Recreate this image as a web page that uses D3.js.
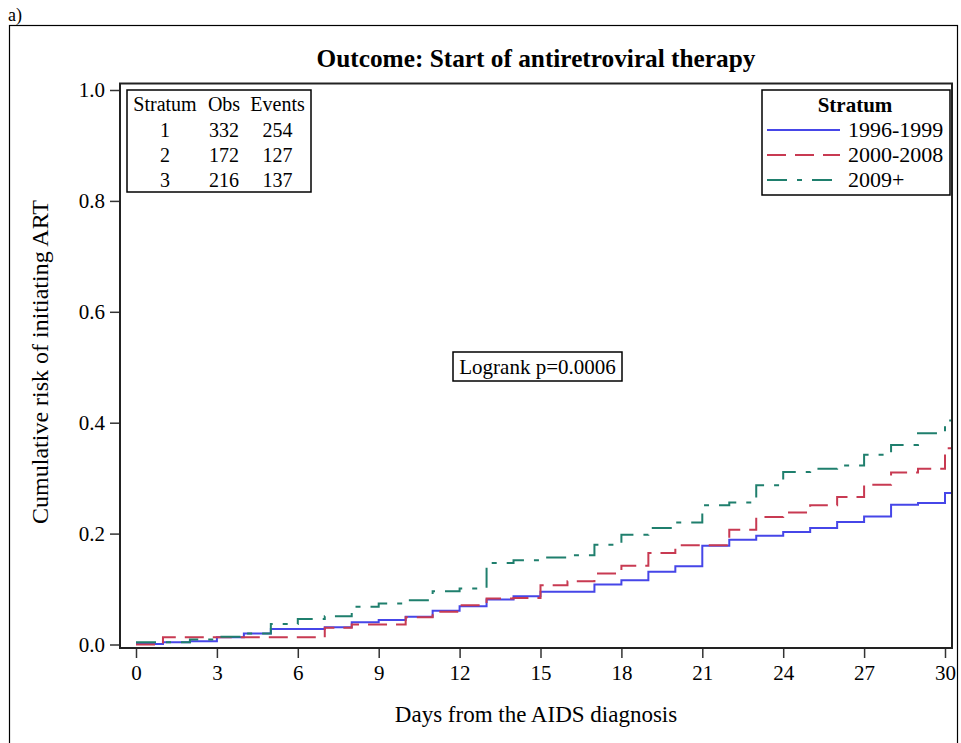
<!DOCTYPE html>
<html><head><meta charset="utf-8">
<script src="https://cdn.jsdelivr.net/npm/d3@7"></script>
<style>body{margin:0;background:#fff}svg{display:block}text{font-family:"Liberation Serif","Times New Roman",serif;fill:#000}</style>
</head><body><div id="c"></div>
<script>
const days = d3.range(0, 31);
const seriesNames = ["1996-1999", "2000-2008", "2009+"];
const blueVals = [0.001,0.004,0.006,0.013,0.020,0.028,0.028,0.031,0.040,0.044,0.050,0.061,0.069,0.081,0.087,0.095,0.095,0.108,0.116,0.131,0.141,0.178,0.189,0.196,0.203,0.210,0.221,0.231,0.252,0.255,0.273];
const redVals  = [0.000,0.013,0.013,0.013,0.013,0.013,0.013,0.030,0.036,0.036,0.049,0.059,0.071,0.083,0.084,0.107,0.114,0.128,0.142,0.165,0.179,0.179,0.207,0.230,0.238,0.251,0.266,0.288,0.310,0.317,0.354];
const tealVals = [0.004,0.004,0.009,0.014,0.020,0.037,0.046,0.051,0.068,0.074,0.080,0.096,0.101,0.147,0.152,0.157,0.161,0.180,0.198,0.210,0.220,0.251,0.256,0.287,0.311,0.317,0.323,0.342,0.360,0.381,0.404];
const lastDay = 30.25;
const xTicks = [0,3,6,9,12,15,18,21,24,27,30];
const yTicks = [0,0.2,0.4,0.6,0.8,1.0];
const tableHeader = ["Stratum","Obs","Events"];
const tableRows = [["1","332","254"],["2","172","127"],["3","216","137"]];
const colors = ["#4646e8","#c83a52","#1f7f6d"];
const dashes = [null, "19,9", "20,10,5,10"];

const W = 961, H = 743;
const svg = d3.select("#c").append("svg").attr("width", W).attr("height", H);

// outer frame + panel label
svg.append("text").attr("x", 8).attr("y", 21).attr("font-size", 18).text("a)");
svg.append("rect").attr("x", 9.5).attr("y", 25.5).attr("width", 948).attr("height", 740)
  .attr("fill","none").attr("stroke","#000").attr("stroke-width",1.2);

const plot = {l:120, t:83.5, r:952, b:648};
const x = d3.scaleLinear().domain([0,30]).range([136, 945]);
const y = d3.scaleLinear().domain([0,1]).range([644.5, 90]);

svg.append("text").attr("x", 536).attr("y", 67).attr("text-anchor","middle")
  .attr("font-size", 25.3).attr("font-weight","bold").text("Outcome: Start of antiretroviral therapy");

// axes
const xAxis = svg.append("g").attr("transform", `translate(0,${plot.b})`)
  .call(d3.axisBottom(x).tickValues(xTicks).tickFormat(d3.format("d")).tickSize(10).tickPadding(7));
const yAxis = svg.append("g").attr("transform", `translate(${plot.l},0)`)
  .call(d3.axisLeft(y).tickValues(yTicks).tickFormat(d3.format(".1f")).tickSize(10).tickPadding(5));
[xAxis, yAxis].forEach(g => {
  g.select(".domain").remove();
  g.selectAll("line").attr("stroke","#333").attr("stroke-width",1.5);
  g.selectAll("text").attr("font-size",21).attr("font-family",'"Liberation Serif",serif').attr("fill","#000");
});

// curves
const allVals = [blueVals, redVals, tealVals];
const line = d3.line().x(d => x(d[0])).y(d => y(d[1])).curve(d3.curveStepAfter);
allVals.forEach((vals, i) => {
  const pts = days.map((d, j) => [d, vals[j]]);
  pts.push([lastDay, vals[vals.length-1]]);
  svg.append("path").datum(pts).attr("d", line).attr("fill","none")
    .attr("stroke", colors[i]).attr("stroke-width", 2)
    .attr("stroke-dasharray", dashes[i]);
});

// plot frame
svg.append("rect").attr("x", plot.l).attr("y", plot.t).attr("width", plot.r-plot.l).attr("height", plot.b-plot.t)
  .attr("fill","none").attr("stroke","#222").attr("stroke-width",2);

// axis titles
svg.append("text").attr("x", 536).attr("y", 722).attr("text-anchor","middle").attr("font-size",23)
  .text("Days from the AIDS diagnosis");
svg.append("text").attr("transform","translate(48,362) rotate(-90)").attr("text-anchor","middle").attr("font-size",24)
  .text("Cumulative risk of initiating ART");

// stats table
svg.append("rect").attr("x",127).attr("y",90).attr("width",184).attr("height",102)
  .attr("fill","#fff").attr("stroke","#000").attr("stroke-width",1.5);
const colX = [165, 224, 277.5];
const rowY = [111, 137, 162, 187];
tableHeader.forEach((h,i) => svg.append("text").attr("x", colX[i]).attr("y", rowY[0]).attr("text-anchor","middle").attr("font-size",20).text(h));
tableRows.forEach((r, k) => r.forEach((v, i) =>
  svg.append("text").attr("x", colX[i]).attr("y", rowY[k+1]).attr("text-anchor","middle").attr("font-size",20).text(v)));

// legend
svg.append("rect").attr("x",762).attr("y",90).attr("width",188).attr("height",105)
  .attr("fill","#fff").attr("stroke","#000").attr("stroke-width",1.5);
svg.append("text").attr("x",855).attr("y",112).attr("text-anchor","middle").attr("font-size",21).attr("font-weight","bold").text("Stratum");
seriesNames.forEach((n, i) => {
  const ly = 130 + i*25;
  svg.append("line").attr("x1",767).attr("x2",840).attr("y1",ly).attr("y2",ly)
    .attr("stroke",colors[i]).attr("stroke-width",2).attr("stroke-dasharray",dashes[i]);
  svg.append("text").attr("x",848).attr("y",ly+7).attr("font-size",22).text(n);
});

// logrank box
svg.append("rect").attr("x",453).attr("y",352).attr("width",169).attr("height",29)
  .attr("fill","#fff").attr("stroke","#000").attr("stroke-width",1.5);
svg.append("text").attr("x",537.5).attr("y",374).attr("text-anchor","middle").attr("font-size",21).text("Logrank p=0.0006");
</script></body></html>
